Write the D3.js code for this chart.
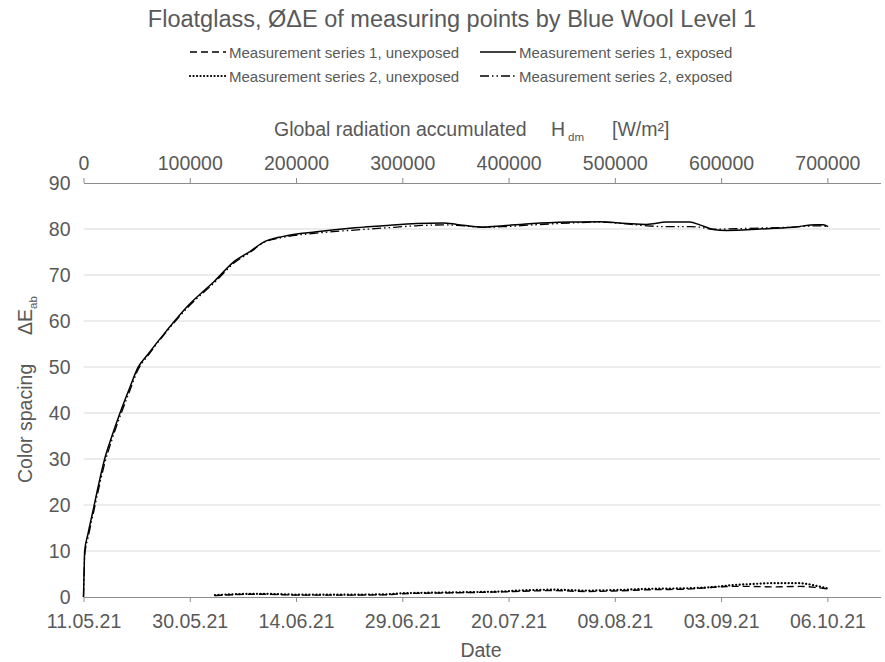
<!DOCTYPE html>
<html>
<head>
<meta charset="utf-8">
<script src="https://cdn.jsdelivr.net/npm/d3@7/dist/d3.min.js"></script>
<style>
  html, body { margin: 0; padding: 0; background: #fff; }
  svg { display: block; font-family: "Liberation Sans", Arial, sans-serif; }
</style>
</head>
<body>
<svg id="chart" width="885" height="662"></svg>
<script>
// Accumulated global radiation H_dm [W/m²] at each sample of the exposed series
const radiationExposed = [0, 500, 1100, 4200, 8900, 13600, 19900, 26200, 34000, 43500, 51300, 60700,
  77900, 98300, 123400, 142200, 156600, 169100, 188000, 219400, 250700, 282000, 313500, 338500,
  351100, 376100, 394900, 423100, 457700, 485900, 511000, 529800, 548600, 570600, 580000, 592500,
  605100, 636400, 667700, 689700, 696000, 700700];
const series1Exposed = [0, 5, 10, 13.7, 18.7, 23.8, 30, 34.6, 39.8, 45.5, 49.9, 52.8,
  57.8, 63.3, 68.7, 73, 75.1, 77.1, 78.4, 79.4, 80.15, 80.7, 81.2, 81.3,
  81.0, 80.4, 80.7, 81.2, 81.5, 81.6, 81.2, 81.0, 81.5, 81.5, 80.9, 79.9,
  79.7, 80.0, 80.4, 80.9, 80.9, 80.5];
const series2Exposed = [0, 4, 9, 12.8, 17.8, 22.8, 29, 33.8, 39.0, 44.8, 49.4, 52.5,
  57.6, 63.0, 68.4, 72.7, 74.9, 77.0, 78.2, 79.1, 79.7, 80.2, 80.7, 80.9,
  80.8, 80.4, 80.5, 80.9, 81.3, 81.5, 81.1, 80.7, 80.5, 80.5, 80.4, 79.95,
  80.0, 80.2, 80.4, 80.7, 80.7, 80.2];

// Unexposed reference points, measured from the start of June onwards
const radiationUnexposed = [123700, 140600, 165000, 187700, 203700, 241300, 285500, 297700, 344800,
  391800, 420000, 441700, 473700, 498100, 535700, 567700, 580000, 598800, 611000, 627000, 648600,
  674000, 688100, 699400];
const series1Unexposed = [0.3, 0.5, 0.6, 0.5, 0.4, 0.4, 0.5, 0.7, 0.9, 1.1, 1.3, 1.4, 1.2, 1.3,
  1.6, 1.7, 1.9, 2.2, 2.3, 2.3, 2.2, 2.3, 2.1, 1.8];
const series2Unexposed = [0.4, 0.6, 0.7, 0.6, 0.5, 0.5, 0.6, 0.8, 1.0, 1.2, 1.5, 1.6, 1.4, 1.5,
  1.8, 1.9, 2.0, 2.3, 2.6, 2.8, 3.0, 3.0, 2.5, 1.9];

// Axis ticks
const radiationTicks = [0, 100000, 200000, 300000, 400000, 500000, 600000, 700000];
const dateLabels = ["11.05.21", "30.05.21", "14.06.21", "29.06.21", "20.07.21", "09.08.21", "03.09.21", "06.10.21"];
const deltaETicks = [0, 10, 20, 30, 40, 50, 60, 70, 80, 90];

const textColor = "#595959";
const axisColor = "#8c8c8c";
const gridColor = "#d9d9d9";
const labelSize = 19.5;

const svg = d3.select("#chart");
const plotLeft = 83.5, plotRight = 880.5, plotTop = 183, plotBottom = 597;

const x = d3.scaleLinear().domain([0, 750000]).range([plotLeft, plotRight]);
const y = d3.scaleLinear().domain([0, 90]).range([plotBottom, plotTop]);

// Title
svg.append("text")
  .attr("x", 452).attr("y", 27)
  .attr("text-anchor", "middle")
  .attr("font-size", 23.5).attr("fill", textColor)
  .text("Floatglass, ØΔE of measuring points by Blue Wool Level 1");

// Horizontal gridlines
svg.append("g").selectAll("line")
  .data(deltaETicks.filter(d => d > 0 && d < 90))
  .join("line")
  .attr("x1", plotLeft).attr("x2", plotRight)
  .attr("y1", d => y(d)).attr("y2", d => y(d))
  .attr("stroke", gridColor).attr("stroke-width", 1);

// Left value axis (labels only)
const yAxis = svg.append("g")
  .attr("transform", `translate(${plotLeft},0)`)
  .call(d3.axisLeft(y).tickValues(deltaETicks).tickSize(0).tickPadding(13));
yAxis.select(".domain").remove();
yAxis.selectAll("text").attr("font-size", labelSize).attr("fill", textColor).attr("font-family", null);

// Top radiation axis
const xTop = svg.append("g")
  .attr("transform", `translate(0,${plotTop})`)
  .call(d3.axisTop(x).tickValues(radiationTicks).tickSizeInner(5).tickSizeOuter(0).tickPadding(8)
    .tickFormat(d3.format("d")));
xTop.select(".domain").attr("stroke", axisColor);
xTop.selectAll(".tick line").attr("stroke", axisColor);
xTop.selectAll("text").attr("font-size", labelSize).attr("fill", textColor).attr("font-family", null);

// Bottom date axis: dates at which the radiation ticks were reached
const xBottom = svg.append("g")
  .attr("transform", `translate(0,${plotBottom})`)
  .call(d3.axisBottom(x).tickValues(radiationTicks).tickSizeInner(5).tickSizeOuter(0).tickPadding(12)
    .tickFormat((d, i) => dateLabels[i]));
xBottom.select(".domain").attr("stroke", axisColor);
xBottom.selectAll(".tick line").attr("stroke", axisColor);
xBottom.selectAll("text").attr("font-size", labelSize).attr("fill", textColor).attr("font-family", null);

// Axis titles
svg.append("text")
  .attr("x", 481).attr("y", 657)
  .attr("text-anchor", "middle").attr("font-size", labelSize).attr("fill", textColor)
  .text("Date");

const topTitle = svg.append("text")
  .attr("x", 274).attr("y", 136)
  .attr("font-size", labelSize).attr("fill", textColor);
topTitle.append("tspan").text("Global radiation accumulated");
topTitle.append("tspan").attr("x", 551).text("H");
topTitle.append("tspan").attr("x", 568).attr("font-size", 11.5).attr("dy", 5).text("dm");
topTitle.append("tspan").attr("x", 612).attr("dy", -5).text("[W/m²]");

const yTitle = svg.append("text")
  .attr("transform", "translate(32,483) rotate(-90)")
  .attr("font-size", labelSize).attr("fill", textColor);
yTitle.append("tspan").text("Color spacing");
yTitle.append("tspan").attr("x", 148).text("ΔE");
yTitle.append("tspan").attr("font-size", 11.5).attr("dy", 5).text("ab");

// Series definitions and line styles
const series = [
  { name: "Measurement series 1, unexposed", xs: radiationUnexposed, ys: series1Unexposed, dash: "7,4", width: 1.4, cap: "butt" },
  { name: "Measurement series 1, exposed", xs: radiationExposed, ys: series1Exposed, dash: null, width: 1.5, cap: "butt" },
  { name: "Measurement series 2, unexposed", xs: radiationUnexposed, ys: series2Unexposed, dash: "0.1,3.4", width: 2.2, cap: "round" },
  { name: "Measurement series 2, exposed", xs: radiationExposed, ys: series2Exposed, dash: "9,3,1.5,3,1.5,3", width: 1.3, cap: "butt" }
];

const line = d3.line()
  .x(d => x(d[0]))
  .y(d => y(d[1]))
  .curve(d3.curveMonotoneX);

const plot = svg.append("g");
// draw exposed series 2 beneath series 1 so the solid line reads on top
[series[3], series[1], series[0], series[2]].forEach(s => {
  plot.append("path")
    .datum(s.xs.map((v, i) => [v, s.ys[i]]))
    .attr("d", line)
    .attr("fill", "none")
    .attr("stroke", "#000")
    .attr("stroke-width", s.width)
    .attr("stroke-linecap", s.cap)
    .attr("stroke-dasharray", s.dash);
});

// Legend: two rows, two columns
const legendPos = [
  { lx: 190, ly: 52 }, { lx: 480, ly: 52 },
  { lx: 190, ly: 76 }, { lx: 480, ly: 76 }
];
series.forEach((s, i) => {
  const p = legendPos[i];
  const g = svg.append("g").attr("transform", `translate(${p.lx},${p.ly})`);
  g.append("line")
    .attr("x1", 0).attr("x2", 36).attr("y1", 0).attr("y2", 0)
    .attr("stroke", "#000").attr("stroke-width", s.width)
    .attr("stroke-linecap", s.cap)
    .attr("stroke-dasharray", s.dash);
  g.append("text")
    .attr("x", 39).attr("y", 5.5)
    .attr("font-size", 15).attr("fill", textColor)
    .text(s.name);
});
</script>
</body>
</html>
